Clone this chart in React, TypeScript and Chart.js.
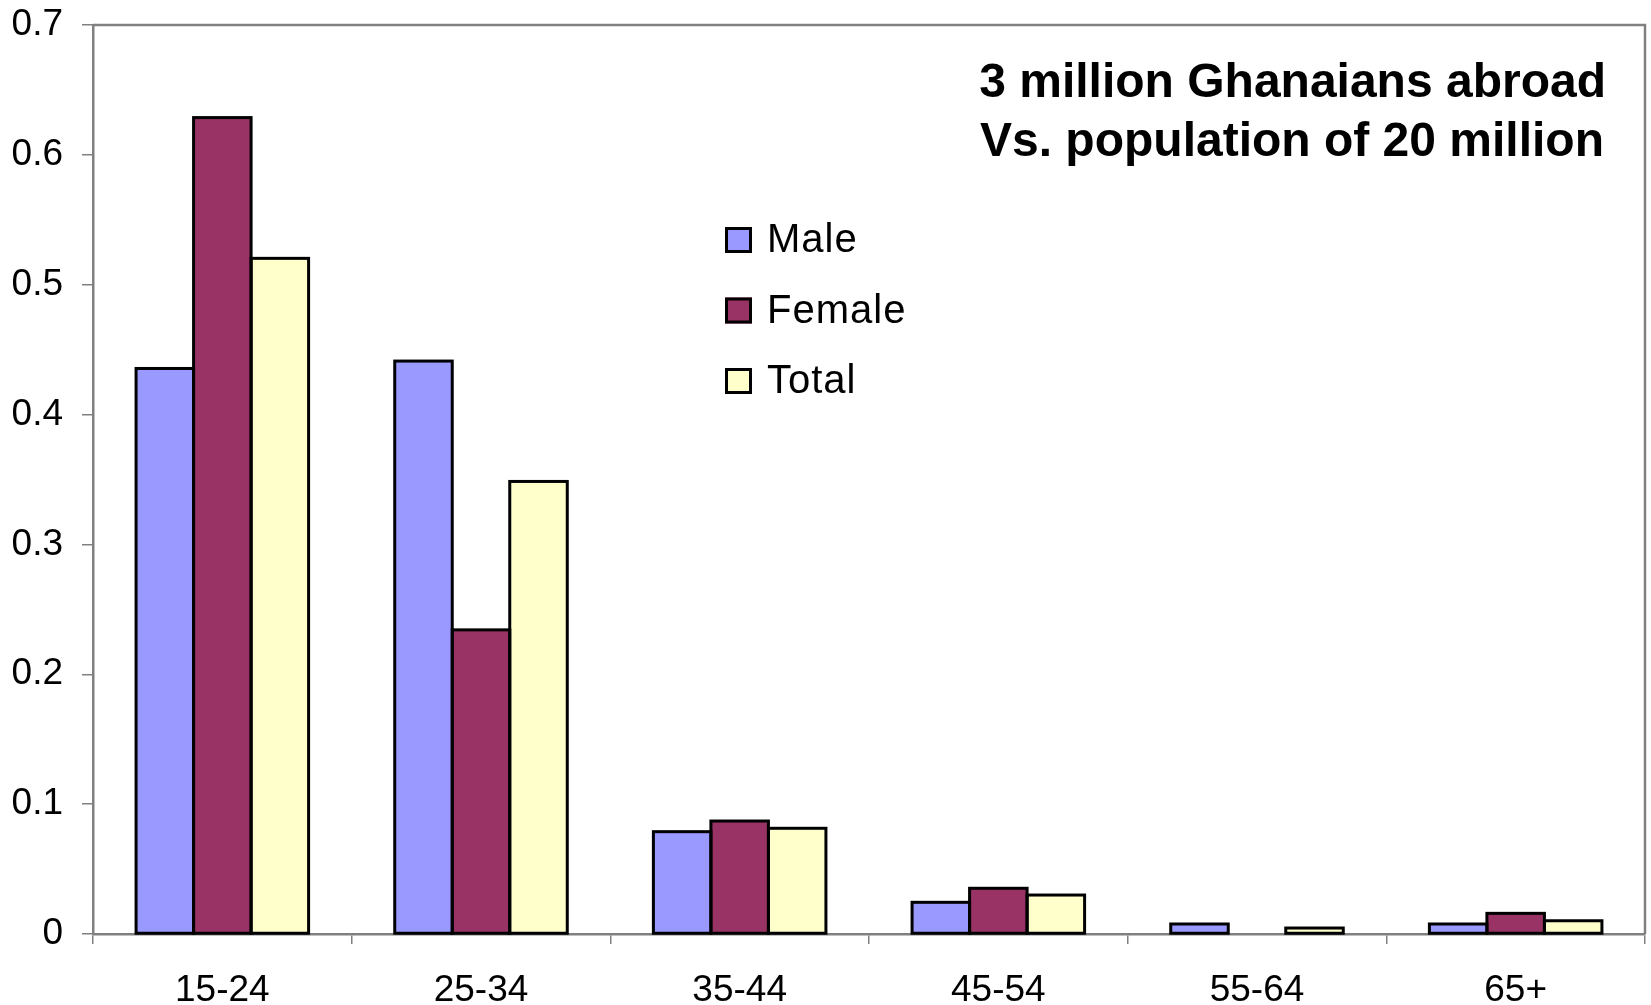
import React, { useEffect, useRef } from "react";
import { Chart, registerables } from "chart.js";

Chart.register(...registerables);

// Age groups and share of each group (fraction)
const ageGroups = ["15-24", "25-34", "35-44", "45-54", "55-64", "65+"];
const maleShare = [0.4355, 0.4412, 0.0788, 0.0244, 0.0077, 0.0077];
const femaleShare = [0.6287, 0.2342, 0.087, 0.0352, 0, 0.0159];
const totalShare = [0.5203, 0.3485, 0.0814, 0.03, 0.0046, 0.0102];

const seriesNames = ["Male", "Female", "Total"];
const seriesColors = ["#9999FF", "#993366", "#FFFFCC"];

const titleLines = ["3 million Ghanaians abroad", "Vs. population of 20 million"];

const FONT = "'Liberation Sans', Arial, Helvetica, sans-serif";
const AXIS_GRAY = "#808080";

// Black outlines centred on each bar edge, so neighbouring bars share one outline
const barOutlinePlugin = {
  id: "barOutline",
  afterDatasetsDraw(chart: any) {
    const { ctx } = chart;
    ctx.save();
    ctx.strokeStyle = "#000";
    ctx.lineWidth = 3;
    ctx.lineJoin = "miter";
    chart.data.datasets.forEach((ds: any, i: number) => {
      const meta = chart.getDatasetMeta(i);
      meta.data.forEach((bar: any, j: number) => {
        if (!ds.data[j]) return;
        const { x, y, base, width } = bar.getProps(["x", "y", "base", "width"], true);
        ctx.strokeRect(x - width / 2, y, width, base - y);
      });
    });
    ctx.restore();
  },
};

// Draws the plot-area frame (top and right), the two-line heading and the legend
const decorPlugin = {
  id: "decor",
  afterDraw(chart: any) {
    const { ctx, chartArea } = chart;
    ctx.save();
    ctx.strokeStyle = AXIS_GRAY;
    ctx.lineWidth = 2.5;
    ctx.beginPath();
    ctx.moveTo(chartArea.left, chartArea.top);
    ctx.lineTo(chartArea.right, chartArea.top);
    ctx.lineTo(chartArea.right, chartArea.bottom);
    ctx.stroke();

    // heading
    ctx.fillStyle = "#000";
    ctx.font = `bold 48px ${FONT}`;
    ctx.textAlign = "right";
    ctx.textBaseline = "alphabetic";
    ctx.fillText(titleLines[0], 1606, 97);
    ctx.fillText(titleLines[1], 1604, 156);

    // legend
    const rowCenters = [240, 310.5, 381];
    chart.data.datasets.forEach((ds: any, i: number) => {
      const cy = rowCenters[i];
      const bx = 725;
      const bw = 27;
      const bh = 26;
      ctx.fillStyle = ds.backgroundColor;
      ctx.fillRect(bx, cy - bh / 2, bw, bh);
      ctx.strokeStyle = "#000";
      ctx.lineWidth = 3;
      ctx.strokeRect(bx + 1.5, cy - bh / 2 + 1.5, bw - 3, bh - 3);
      ctx.fillStyle = "#000";
      ctx.font = `40px ${FONT}`;
      ctx.textAlign = "left";
      ctx.textBaseline = "alphabetic";
      (ctx as any).letterSpacing = "1px";
      ctx.fillText(ds.label, 767, cy + 12);
      (ctx as any).letterSpacing = "0px";
    });
    ctx.restore();
  },
};

export default function App() {
  const canvasRef = useRef<HTMLCanvasElement | null>(null);

  useEffect(() => {
    const canvas = canvasRef.current;
    if (!canvas) return;
    const values = [maleShare, femaleShare, totalShare];
    const chart = new Chart(canvas, {
      type: "bar",
      data: {
        labels: ageGroups,
        datasets: seriesNames.map((name, i) => ({
          label: name,
          data: values[i],
          backgroundColor: seriesColors[i],
          borderWidth: 0,
          inflateAmount: 0,
          categoryPercentage: 0.667,
          barPercentage: 1,
        })),
      },
      options: {
        responsive: false,
        animation: false,
        devicePixelRatio: 1,
        layout: { padding: { left: 0, top: 25, right: 6, bottom: 0 } },
        plugins: {
          legend: { display: false },
          tooltip: { enabled: false },
          title: { display: false },
        },
        scales: {
          x: {
            grid: {
              offset: true,
              drawOnChartArea: false,
              drawTicks: true,
              tickLength: 10,
              color: AXIS_GRAY,
              lineWidth: 1.5,
            },
            border: { display: true, color: AXIS_GRAY, width: 2.5 },
            ticks: {
              color: "#000",
              font: { family: FONT, size: 37 },
              padding: 25,
              maxRotation: 0,
              autoSkip: false,
            },
            afterFit(scale: any) {
              scale.height = 71;
              scale.paddingLeft = 0;
              scale.paddingRight = 0;
            },
          },
          y: {
            min: 0,
            max: 0.7,
            grid: {
              drawOnChartArea: false,
              drawTicks: true,
              tickLength: 11,
              color: AXIS_GRAY,
              lineWidth: 1.5,
            },
            border: { display: true, color: AXIS_GRAY, width: 2.5 },
            ticks: {
              stepSize: 0.1,
              color: "#000",
              font: { family: FONT, size: 37 },
              padding: 19,
            },
            afterFit(scale: any) {
              scale.width = 93;
              scale.paddingTop = 0;
              scale.paddingBottom = 0;
            },
          },
        },
      },
      plugins: [barOutlinePlugin, decorPlugin],
    });
    return () => chart.destroy();
  }, []);

  return (
    <div style={{ position: "absolute", left: 0, top: 0, width: 1651, height: 1005, background: "#fff" }}>
      <canvas ref={canvasRef} width={1651} height={1005} style={{ display: "block" }} />
    </div>
  );
}
